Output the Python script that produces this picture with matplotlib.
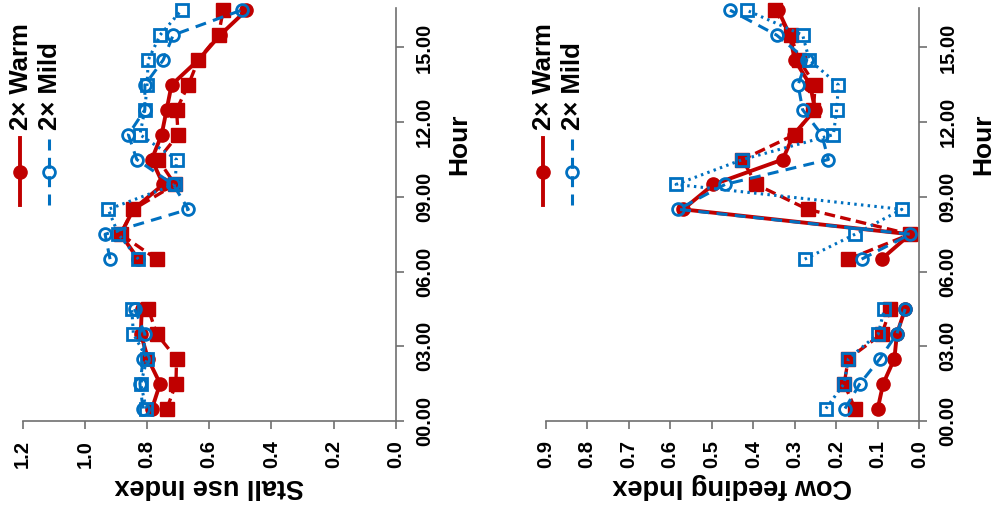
import numpy as np
import matplotlib
matplotlib.use("Agg")
import matplotlib.pyplot as plt
from matplotlib.lines import Line2D

plt.rcParams['font.family'] = ['Liberation Sans', 'DejaVu Sans']
plt.rcParams['font.weight'] = 'bold'

# hour bins (centre of each hour), no data for 05-06
hours = [0.5, 1.5, 2.5, 3.5, 4.5, 5.5, 6.5, 7.5, 8.5, 9.5, 10.5, 11.5, 12.5, 13.5, 14.5, 15.5, 16.5]
nan = float('nan')

# Stall use index
stall_warm_a = [0.784, 0.758, 0.797, 0.82, 0.817, nan, 0.828, 0.885, 0.844, 0.748, 0.785, 0.753, 0.737, 0.721, 0.635, 0.565, 0.48]
stall_warm_b = [0.736, 0.707, 0.705, 0.769, 0.796, nan, 0.769, 0.885, 0.844, 0.71, 0.764, 0.70, 0.705, 0.667, 0.635, 0.57, 0.555]
stall_mild_a = [0.813, 0.823, 0.812, 0.807, 0.84, nan, 0.919, 0.935, 0.667, 0.716, 0.833, 0.86, 0.807, 0.807, 0.748, 0.716, 0.496]
stall_mild_b = [0.803, 0.82, 0.80, 0.844, 0.849, nan, 0.828, 0.892, 0.925, 0.71, 0.705, 0.823, 0.807, 0.80, 0.796, 0.758, 0.689]

# Cow feeding index
feed_warm_a = [0.10, 0.087, 0.06, 0.054, 0.034, nan, 0.091, 0.022, 0.569, 0.496, 0.329, 0.303, 0.251, 0.263, 0.30, 0.312, 0.34]
feed_warm_b = [0.155, 0.181, 0.171, 0.09, 0.07, nan, 0.171, 0.022, 0.269, 0.393, 0.426, 0.30, 0.255, 0.251, 0.29, 0.31, 0.348]
feed_mild_a = [0.179, 0.143, 0.095, 0.054, 0.034, nan, 0.139, 0.022, 0.581, 0.468, 0.219, 0.235, 0.281, 0.292, 0.271, 0.344, 0.456]
feed_mild_b = [0.225, 0.181, 0.171, 0.099, 0.084, nan, 0.276, 0.155, 0.042, 0.586, 0.426, 0.207, 0.199, 0.195, 0.265, 0.281, 0.416]

hour_ticks = [0, 3, 6, 9, 12, 15]
hour_labels = ['00.00', '03.00', '06.00', '09.00', '12.00', '15.00']
stall_ticks = [0.0, 0.2, 0.4, 0.6, 0.8, 1.0, 1.2]
feed_ticks = [0.0, 0.1, 0.2, 0.3, 0.4, 0.5, 0.6, 0.7, 0.8, 0.9]
legend_labels = ['2\u00d7 Warm', '2\u00d7 Mild']

RED = '#C00000'
BLUE = '#0070C0'
AXC = '#707070'

W, H = 1000, 511
fig = plt.figure(figsize=(W / 100, H / 100), dpi=100)


def fx(px):
    return px / W


def fy(py):
    return 1 - py / H


def draw_panel(x_left, x_right, vmax, ticks, series, ylabel):
    ax = fig.add_axes([fx(x_left), fy(421), fx(x_right - x_left), fy(8) - fy(421)])
    wa, wb, ma, mb = series
    ax.plot(wa, hours, color=RED, lw=2.8, marker='o', ms=9.5, clip_on=False, zorder=3)
    ax.plot(wb, hours, color=RED, lw=2.4, dashes=(3.2, 1.6), marker='s', ms=9.5,
            clip_on=False, zorder=3)
    ax.plot(ma, hours, color=BLUE, lw=2.2, dashes=(3.6, 2.4), marker='o', ms=8.5,
            mfc='none', mew=2, clip_on=False, zorder=4)
    ax.plot(mb, hours, color=BLUE, lw=2.2, dashes=(0.8, 1.4), marker='s', ms=8.5,
            mfc='none', mew=2, clip_on=False, zorder=4)

    ax.set_xlim(vmax, 0)
    ax.set_ylim(0, 413 / 24.9)
    for s in ['top', 'left']:
        ax.spines[s].set_visible(False)
    for s in ['bottom', 'right']:
        ax.spines[s].set_color(AXC)
        ax.spines[s].set_linewidth(1.2)
    ax.yaxis.tick_right()
    ax.set_xticks(ticks)
    ax.set_xticklabels([f'{t:.1f}' for t in ticks], rotation=90)
    ax.set_yticks(hour_ticks)
    ax.set_yticklabels(hour_labels, rotation=90, va='center')
    ax.tick_params(axis='both', direction='out', length=6, width=1.2, color=AXC,
                   labelsize=14.5, pad=8)
    for lab in ax.get_xticklabels() + ax.get_yticklabels():
        lab.set_fontweight('bold')
    ax.patch.set_visible(False)

    # axis titles (figure turned on its side)
    fig.text(fx((x_left + x_right) / 2), fy(486), ylabel, rotation=180,
             ha='center', va='center', fontsize=19.5, fontweight='bold')
    fig.text(fx(x_right + 64), fy(144), 'Hour', rotation=90,
             ha='center', va='center', fontsize=19, fontweight='bold')

    # legend
    styles = [dict(color=RED, lw=2.8, ls='-', marker='o', ms=9.5),
              dict(color=BLUE, lw=2.2, dashes=(3.6, 2.4), marker='o', ms=8.5,
                   mfc='none', mew=2)]
    for i, (lab, st) in enumerate(zip(legend_labels, styles)):
        lx = x_left - 2.5 + 28.5 * i
        fig.add_artist(Line2D([fx(lx), fx(lx)], [fy(205), fy(138)],
                              transform=fig.transFigure, **{k: v for k, v in st.items()
                                                            if k not in ('marker', 'ms', 'mfc', 'mew')}))
        fig.add_artist(Line2D([fx(lx)], [fy(172)], transform=fig.transFigure,
                              color=st['color'], marker='o', ms=st['ms'],
                              mfc=st.get('mfc', st['color']), mew=st.get('mew', 1), ls='none'))
        fig.text(fx(lx + 1), fy(130), lab, rotation=90, ha='center', va='bottom',
                 fontsize=18.5, fontweight='bold')
    return ax


draw_panel(22.7, 395.7, 1.2, stall_ticks,
           (stall_warm_a, stall_warm_b, stall_mild_a, stall_mild_b), 'Stall use Index')
draw_panel(545.7, 919.3, 0.9, feed_ticks,
           (feed_warm_a, feed_warm_b, feed_mild_a, feed_mild_b), 'Cow feeding Index')

fig.savefig('out.png', dpi=100)
